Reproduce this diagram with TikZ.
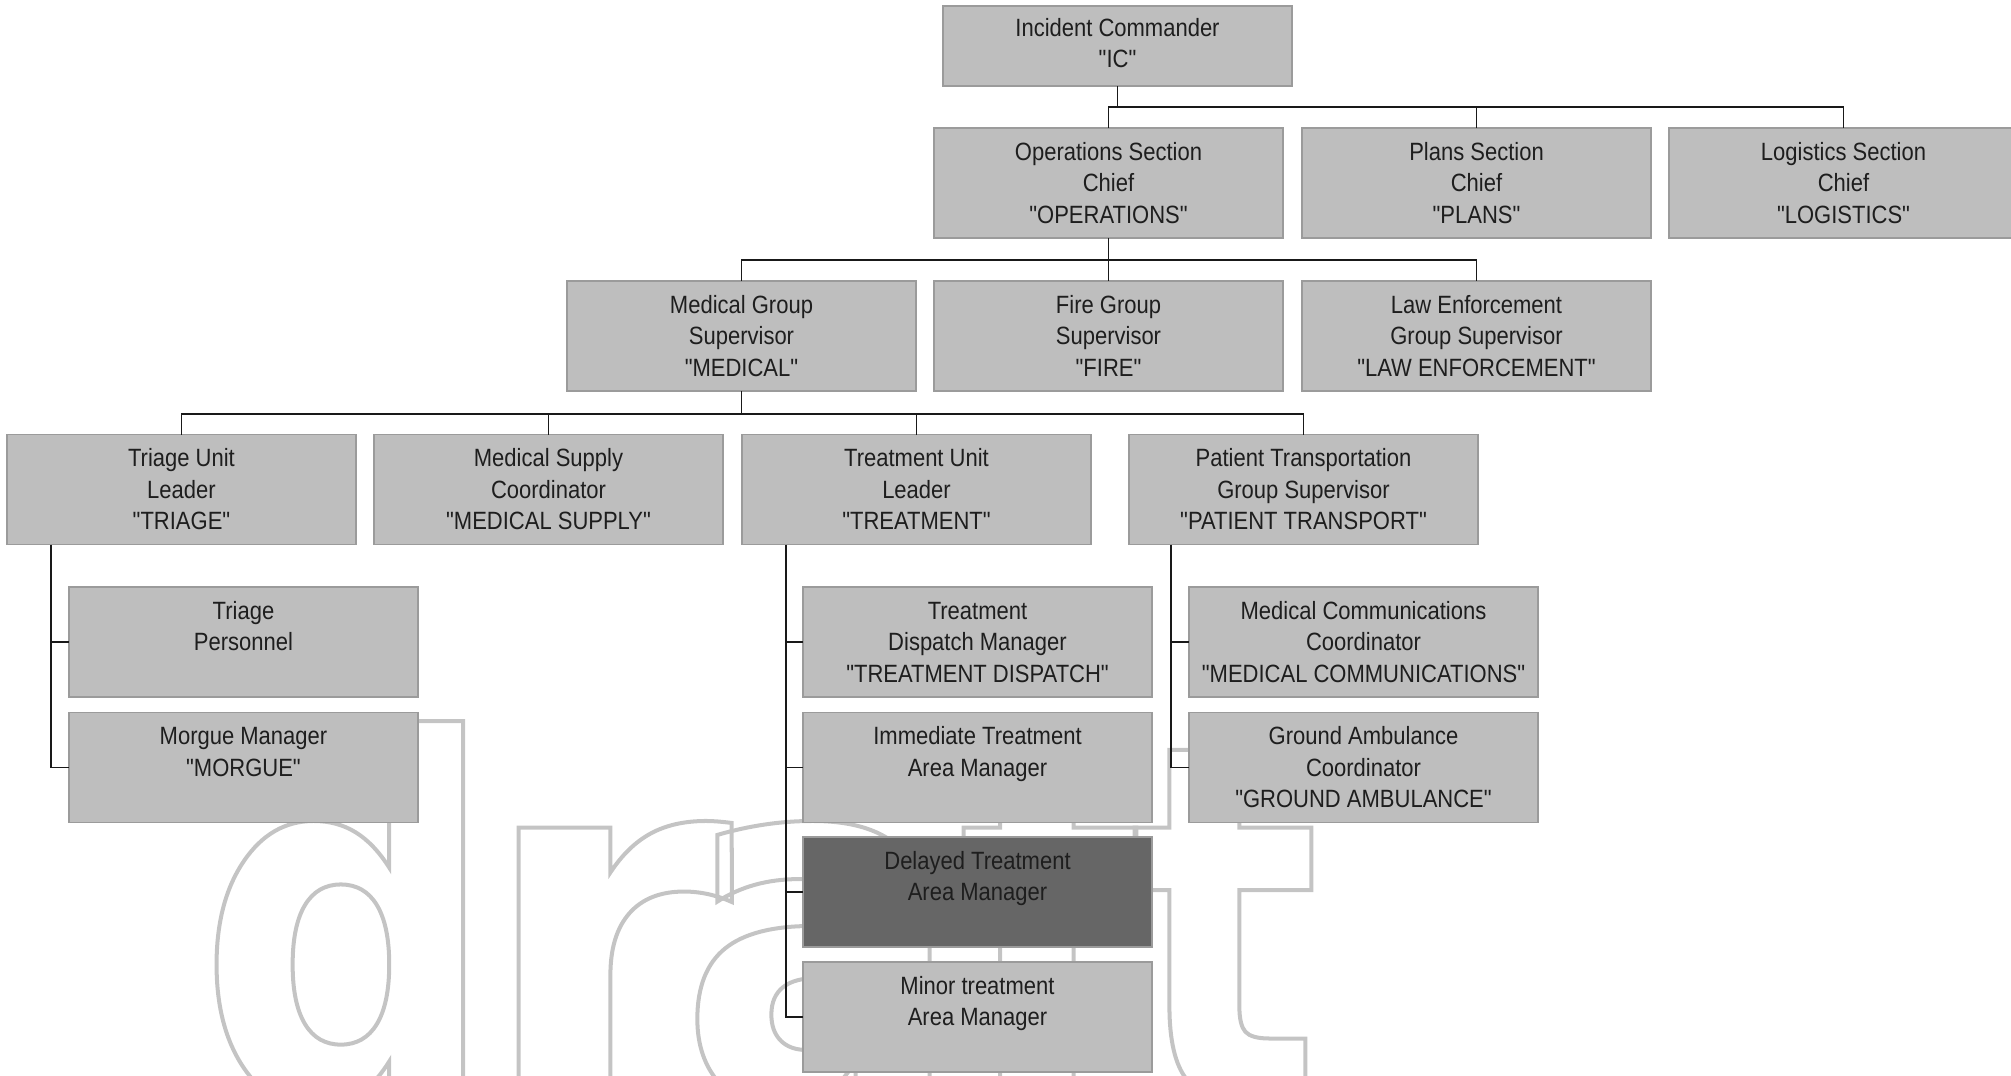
\documentclass[tikz,border=0pt]{standalone}
\usepackage{fontspec}
\setmainfont{Liberation Sans}[FakeStretch=0.88, Ligatures=TeXOff]
\newfontfamily\wmfont{DejaVu Sans Bold}[FakeStretch=0.84]
\newfontfamily\wmwide{DejaVu Sans Bold}[FakeStretch=1.05]
\newfontfamily\wmnarrow{DejaVu Sans Bold}[FakeStretch=0.80]
\definecolor{boxfill}{RGB}{190,190,190}
\definecolor{boxline}{RGB}{155,155,155}
\definecolor{darkfill}{RGB}{102,102,102}
\definecolor{txt}{RGB}{30,30,30}
\definecolor{conncol}{RGB}{25,25,25}
\newcommand\bt[3]{\parbox[c][#1pt][t]{349pt}{\centering\fontsize{25pt}{31.5pt}\selectfont\rule{0pt}{#2pt}#3\par}}
\newcommand\outl[1]{\special{pdf:literal direct 1 Tr 4 w 0.77 0.77 0.77 RG}#1\special{pdf:literal direct 0 Tr}}
\tikzset{
  box/.style={draw=boxline, fill=boxfill, line width=1.3pt, inner sep=0pt, outer sep=0pt, text=txt},
  darkbox/.style={box, fill=darkfill},
  conn/.style={draw=conncol, line width=1.6pt},
  wmletter/.style={anchor=base, inner sep=0pt, font=\wmfont\fontsize{500pt}{500pt}\selectfont},
  wmletterwide/.style={wmletter, font=\wmwide\fontsize{500pt}{500pt}\selectfont},
  wmletternarrow/.style={wmletter, font=\wmnarrow\fontsize{500pt}{500pt}\selectfont}
}
\begin{document}
\begin{tikzpicture}[x=1pt, y=-1pt]
\useasboundingbox (0,0) rectangle (2011,1076);
\begin{scope}
\clip (0,0) rectangle (2011,1076);
% watermark
\node[wmletter] (wd) at (348,1101) {\outl{d}};
\node[wmletterwide] (wr) at (604,1101) {\outl{r}};
\node[wmletter] (wa) at (821,1101) {\outl{a}};
\node[wmletter] (wf) at (1047,1101) {\outl{f}};
\node[wmletternarrow] (wt) at (1225,1101) {\outl{t}};
% boxes
\node[box] (ic) at (1117.5,46) {\bt{80}{30}{Incident Commander\\"IC"}};
\node[box] (ops) at (1108.5,183) {\bt{110}{32}{Operations Section\\Chief\\"OPERATIONS"}};
\node[box] (plans) at (1476.5,183) {\bt{110}{32}{Plans Section\\Chief\\"PLANS"}};
\node[box] (log) at (1843.5,183) {\bt{110}{32}{Logistics Section\\Chief\\"LOGISTICS"}};
\node[box] (med) at (741.5,336) {\bt{110}{32}{Medical Group\\Supervisor\\"MEDICAL"}};
\node[box] (fire) at (1108.5,336) {\bt{110}{32}{Fire Group\\Supervisor\\"FIRE"}};
\node[box] (law) at (1476.5,336) {\bt{110}{32}{Law Enforcement\\Group Supervisor\\"LAW ENFORCEMENT"}};
\node[box] (triage) at (181.5,489.5) {\bt{110}{32}{Triage Unit\\Leader\\"TRIAGE"}};
\node[box] (medsup) at (548.5,489.5) {\bt{110}{32}{Medical Supply\\Coordinator\\"MEDICAL SUPPLY"}};
\node[box] (treat) at (916.5,489.5) {\bt{110}{32}{Treatment Unit\\Leader\\"TREATMENT"}};
\node[box] (pat) at (1303.5,489.5) {\bt{110}{32}{Patient Transportation\\Group Supervisor\\"PATIENT TRANSPORT"}};
\node[box] (tp) at (243.5,642) {\bt{110}{32}{Triage\\Personnel}};
\node[box] (morgue) at (243.5,767.5) {\bt{110}{32}{Morgue Manager\\"MORGUE"}};
\node[box] (tdisp) at (977.5,642) {\bt{110}{32}{Treatment\\Dispatch Manager\\"TREATMENT DISPATCH"}};
\node[box] (imm) at (977.5,767.5) {\bt{110}{32}{Immediate Treatment\\Area Manager}};
\node[darkbox] (del) at (977.5,892) {\bt{110}{32}{Delayed Treatment\\Area Manager}};
\node[box] (minor) at (977.5,1017) {\bt{110}{32}{Minor treatment\\Area Manager}};
\node[box] (mcomm) at (1363.5,642) {\bt{110}{32}{Medical Communications\\Coordinator\\"MEDICAL COMMUNICATIONS"}};
\node[box] (gamb) at (1363.5,767.5) {\bt{110}{32}{Ground Ambulance\\Coordinator\\"GROUND AMBULANCE"}};
% connectors level 1-2
\draw[conn] (ic.south) -- (ic.south |- 0,107);
\draw[conn] (ops.north) |- (log.north |- 0,107) -- (log.north);
\draw[conn] (plans.north) -- (plans.north |- 0,107);
% level 2-3
\draw[conn] (ops.south) -- (ops.south |- 0,260);
\draw[conn] (med.north) |- (law.north |- 0,260) -- (law.north);
\draw[conn] (fire.north) -- (fire.north |- 0,260);
% level 3-4
\draw[conn] (med.south) -- (med.south |- 0,414);
\draw[conn] (triage.north) |- (pat.north |- 0,414) -- (pat.north);
\draw[conn] (medsup.north) -- (medsup.north |- 0,414);
\draw[conn] (treat.north) -- (treat.north |- 0,414);
% children
\coordinate (trbus) at ([xshift=44pt]triage.south west);
\draw[conn] (trbus) |- (morgue.west);
\draw[conn] (trbus |- tp.west) -- (tp.west);
\coordinate (tmbus) at ([xshift=44pt]treat.south west);
\draw[conn] (tmbus) |- (minor.west);
\draw[conn] (tmbus |- tdisp.west) -- (tdisp.west);
\draw[conn] (tmbus |- imm.west) -- (imm.west);
\draw[conn] (tmbus |- del.west) -- (del.west);
\coordinate (ptbus) at ([xshift=42pt]pat.south west);
\draw[conn] (ptbus) |- (gamb.west);
\draw[conn] (ptbus |- mcomm.west) -- (mcomm.west);
\end{scope}
\end{tikzpicture}
\end{document}
